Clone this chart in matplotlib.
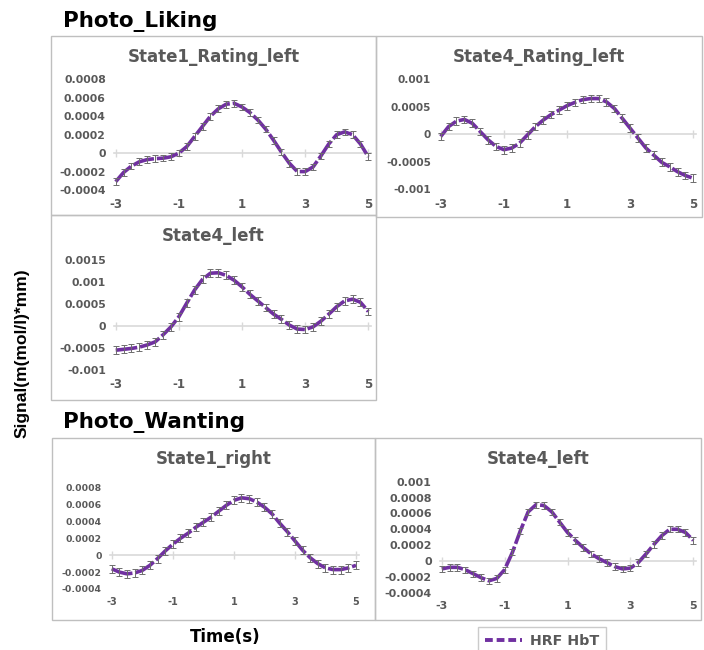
import numpy as np
import matplotlib.pyplot as plt
from matplotlib.patches import Rectangle
from matplotlib.lines import Line2D

plt.rcParams["axes.unicode_minus"] = False

W, H = 704, 650

# #############################################################################
# Data (read off the picture, sampled every 0.25 s)

TIME = [-3.0, -2.75, -2.5, -2.25, -2.0, -1.75, -1.5, -1.25, -1.0, -0.75, -0.5,
        -0.25, 0.0, 0.25, 0.5, 0.75, 1.0, 1.25, 1.5, 1.75, 2.0, 2.25, 2.5,
        2.75, 3.0, 3.25, 3.5, 3.75, 4.0, 4.25, 4.5, 4.75, 5.0]

liking_s1_rating_left = [-0.00031, -0.00021, -0.00014, -0.000094, -0.00007, -0.00006,
                         -0.000055, -0.00004, 0.0, 0.00007, 0.00018, 0.00029, 0.0004,
                         0.00048, 0.00053, 0.00054, 0.0005, 0.00044, 0.00036, 0.00026,
                         0.00014, 0.00001, -0.00011, -0.0002, -0.0002, -0.00015,
                         -0.00003, 0.0001, 0.0002, 0.00023, 0.0002, 0.0001, -0.00004]
liking_s4_rating_left = [-0.00004, 0.00014, 0.00024, 0.00027, 0.0002, 0.00005, -0.0001,
                         -0.00022, -0.00028, -0.00025, -0.00016, -0.00001, 0.00014,
                         0.00026, 0.00036, 0.00044, 0.00052, 0.00058, 0.00063, 0.00065,
                         0.00065, 0.00059, 0.00047, 0.00029, 0.00011, -0.00007,
                         -0.00025, -0.00038, -0.00051, -0.00059, -0.00068, -0.00075,
                         -0.0008]
liking_s4_left = [-0.00055, -0.00053, -0.00051, -0.00048, -0.00043, -0.00036, -0.0002,
                  -0.00002, 0.00021, 0.00052, 0.00082, 0.00106, 0.0012, 0.00121,
                  0.00115, 0.00104, 0.00089, 0.00072, 0.00057, 0.00042, 0.00027,
                  0.00015, 0.00002, -0.00007, -0.00008, -0.00002, 0.00011, 0.00027,
                  0.00044, 0.00057, 0.00061, 0.00054, 0.00033]
wanting_s1_right = [-0.00016, -0.0002, -0.00022, -0.00021, -0.00018, -0.00012, -0.00004,
                    0.00005, 0.00013, 0.0002, 0.00026, 0.00033, 0.00039, 0.00045,
                    0.00052, 0.00059, 0.00065, 0.00068, 0.00067, 0.00063, 0.00057,
                    0.00049, 0.00038, 0.00028, 0.00017, 0.00006, -0.00003, -0.0001,
                    -0.00015, -0.00017, -0.00017, -0.00015, -0.00012]
wanting_s4_left = [-0.0001, -0.00008, -0.00008, -0.00011, -0.00016, -0.00021, -0.00025,
                   -0.00022, -0.00011, 0.00011, 0.00038, 0.00062, 0.00071, 0.0007,
                   0.00062, 0.00049, 0.00036, 0.00026, 0.00017, 0.00009, 0.00003,
                   -0.00002, -0.00007, -0.0001, -0.00009, -0.00002, 0.00009, 0.00021,
                   0.00032, 0.0004, 0.0004, 0.00036, 0.00026]

# error bar half widths (roughly constant in each panel)
ERR = [0.000036, 0.00007, 0.00009, 0.000047, 0.00004]

TITLES = ["State1_Rating_left", "State4_Rating_left", "State4_left",
          "State1_right", "State4_left"]
SERIES = [liking_s1_rating_left, liking_s4_rating_left, liking_s4_left,
          wanting_s1_right, wanting_s4_left]
YTICKS = [[-0.0004, -0.0002, 0, 0.0002, 0.0004, 0.0006, 0.0008],
          [-0.001, -0.0005, 0, 0.0005, 0.001],
          [-0.001, -0.0005, 0, 0.0005, 0.001, 0.0015],
          [-0.0004, -0.0002, 0, 0.0002, 0.0004, 0.0006, 0.0008],
          [-0.0004, -0.0002, 0, 0.0002, 0.0004, 0.0006, 0.0008, 0.001]]
XTICKS = [-3, -1, 1, 3, 5]

# #############################################################################
# Layout (pixels): box, x of t=-3 / t=5, y of top / bottom tick, font sizes
BOXES = [(51, 36, 376, 215), (376, 36, 702, 217), (51, 215, 376, 400),
         (52, 438, 375, 620), (375, 438, 701, 620)]
AXPX = [(115.7, 368.3, 79.3, 190.0), (440.7, 693.3, 79.3, 189.3),
        (115.7, 368.3, 260.0, 370.0), (111.7, 356.0, 487.7, 589.0),
        (441.7, 693.3, 481.7, 592.7)]
YFS = [7.8, 7.6, 7.8, 6.7, 8.0]
XFS = [8.5, 8.5, 8.5, 7.0, 8.0]

PURPLE = "#7030a0"
GREY_TXT = "#595959"
GREY_LINE = "#d9d9d9"
BOX_COL = "#bfbfbf"

fig = plt.figure(figsize=(W / 100, H / 100), dpi=100)

for i in range(5):
    x0, y0, x1, y1 = BOXES[i]
    fig.add_artist(Rectangle((x0 / W, 1 - y1 / H), (x1 - x0) / W, (y1 - y0) / H,
                             transform=fig.transFigure, fill=False,
                             edgecolor=BOX_COL, linewidth=1))
    fig.text((x0 + x1) / 2 / W, 1 - (y0 + 21) / H, TITLES[i], ha="center",
             va="center", fontsize=12, fontweight="bold", color=GREY_TXT)

    # axes placed so that t=-3..5 and the tick range land on the measured pixels
    px_a, px_b, py_top, py_bot = AXPX[i]
    xlo, xhi = -3.05, 5.1
    ppu = (px_b - px_a) / 8
    left = px_a - (-3 - xlo) * ppu
    right = px_b + (xhi - 5) * ppu
    ax = fig.add_axes([left / W, 1 - py_bot / H, (right - left) / W,
                       (py_bot - py_top) / H])
    ax.set_facecolor("none")

    y = np.array(SERIES[i])
    ax.plot(TIME, y, color=PURPLE, linewidth=2.6, linestyle=(0, (6, 0.8)),
            zorder=3, clip_on=False)
    ax.errorbar(TIME, y, yerr=ERR[i], fmt="none", ecolor="#6d6d6d",
                elinewidth=0.7, capsize=2.5, capthick=0.7, zorder=4,
                clip_on=False)

    ax.set_xlim(xlo, xhi)
    ax.set_ylim(YTICKS[i][0], YTICKS[i][-1])
    ax.set_yticks(YTICKS[i])
    ax.set_yticklabels(["0" if v == 0 else f"{v:g}" for v in YTICKS[i]])
    ax.tick_params(axis="y", length=0, pad=6, labelsize=YFS[i],
                   labelcolor=GREY_TXT)
    for lab in ax.get_yticklabels():
        lab.set_fontweight("bold")

    for s in ["left", "right", "top"]:
        ax.spines[s].set_visible(False)
    ax.spines["bottom"].set_position(("data", 0))
    ax.spines["bottom"].set_color(GREY_LINE)
    ax.spines["bottom"].set_linewidth(1.2)
    ax.set_xticks(XTICKS)
    ax.tick_params(axis="x", direction="inout", length=6, width=1,
                   color=GREY_LINE, labelbottom=False)

    sec = ax.secondary_xaxis("bottom")
    sec.set_xticks(XTICKS)
    sec.spines["bottom"].set_visible(False)
    sec.tick_params(length=0, pad=6, labelsize=XFS[i], labelcolor=GREY_TXT)
    for lab in sec.get_xticklabels():
        lab.set_fontweight("bold")

fig.text(63 / W, 1 - 27 / H, "Photo_Liking", fontsize=15.5, fontweight="bold",
         va="baseline", ha="left")
fig.text(63 / W, 1 - 428 / H, "Photo_Wanting", fontsize=15.5, fontweight="bold",
         va="baseline", ha="left")
fig.text(22 / W, 1 - 353 / H, "Signal(m(mol/l)*mm)", rotation=90, ha="center",
         va="center", fontsize=12.5, fontweight="bold", family="Liberation Sans")
fig.text(225 / W, 1 - 637 / H, "Time(s)", ha="center", va="center",
         fontsize=12, fontweight="bold")

handle = Line2D([], [], color=PURPLE, linewidth=2.8, linestyle=(0, (2, 1)))
leg = fig.legend([handle], ["HRF HbT"], loc="upper left",
                 bbox_to_anchor=(478 / W, 1 - 627 / H), frameon=True,
                 fancybox=False, edgecolor=BOX_COL, borderaxespad=0,
                 handlelength=2.6, handletextpad=0.5, borderpad=0.5,
                 prop={"weight": "bold", "size": 10.3})
for t in leg.get_texts():
    t.set_color(GREY_TXT)
leg.get_frame().set_linewidth(1)

fig.savefig("out.png", dpi=100)
